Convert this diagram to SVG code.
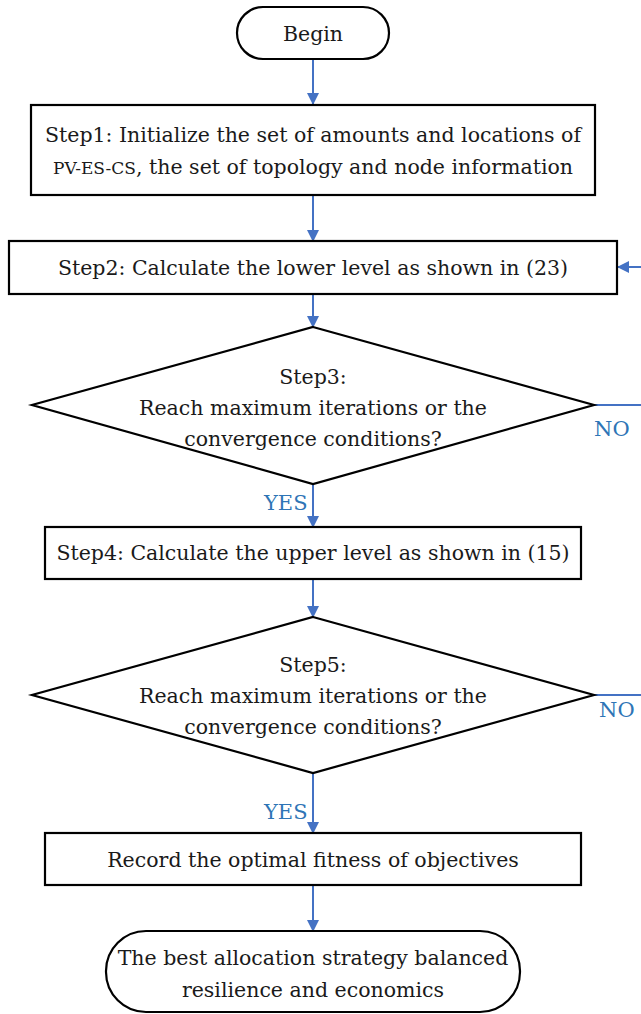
<svg xmlns="http://www.w3.org/2000/svg" width="641" height="1014" viewBox="0 0 641 1014">
<defs>
<marker id="ah" markerWidth="12" markerHeight="12" refX="11" refY="6" orient="auto" markerUnits="userSpaceOnUse">
<path d="M0,0 L12,6 L0,12 Z" fill="#4472C4"/>
</marker>
<style>
.box{fill:#fff;stroke:#000;stroke-width:2.2}
.t{font-family:'DejaVu Serif','Liberation Serif',serif;font-size:20.5px;fill:#1a1a1a;text-anchor:middle}
.s{font-size:17px}
.c{stroke:#4472C4;stroke-width:2;fill:none}
.lbl{font-family:'DejaVu Serif','Liberation Serif',serif;font-size:21px;fill:#2E75B6}
</style>
</defs>
<rect width="641" height="1014" fill="#fff"/>
<g id="connectors">
<line class="c" x1="313" y1="59" x2="313" y2="104" marker-end="url(#ah)"/>
<line class="c" x1="313" y1="196" x2="313" y2="241" marker-end="url(#ah)"/>
<line class="c" x1="313" y1="294" x2="313" y2="327" marker-end="url(#ah)"/>
<line class="c" x1="313" y1="484" x2="313" y2="527" marker-end="url(#ah)"/>
<line class="c" x1="313" y1="579" x2="313" y2="617" marker-end="url(#ah)"/>
<line class="c" x1="313" y1="773" x2="313" y2="833" marker-end="url(#ah)"/>
<line class="c" x1="313" y1="885" x2="313" y2="931" marker-end="url(#ah)"/>
<line class="c" x1="594" y1="405" x2="641" y2="405"/>
<line class="c" x1="594" y1="695" x2="641" y2="695"/>
<line class="c" x1="641" y1="267" x2="618" y2="267" marker-end="url(#ah)"/>
<text class="lbl" x="594" y="436">NO</text>
<text class="lbl" x="599" y="717">NO</text>
<text class="lbl" x="264" y="510">YES</text>
<text class="lbl" x="264" y="819">YES</text>
</g>
<g id="begin">
<rect class="box" x="237" y="7" width="152" height="52" rx="26"/>
<text class="t" x="313" y="41">Begin</text>
</g>
<g id="step1">
<rect class="box" x="31" y="105" width="564" height="90"/>
<text class="t" x="313" y="142">Step1: Initialize the set of amounts and locations of</text>
<text class="t" x="313" y="174"><tspan class="s">PV-ES-CS</tspan>, the set of topology and node information</text>
</g>
<g id="step2">
<rect class="box" x="9" y="241" width="608" height="53"/>
<text class="t" x="313" y="275">Step2: Calculate the lower level as shown in (23)</text>
</g>
<g id="step3">
<polygon class="box" points="313,327 594,405 313,484 32,405"/>
<text class="t" x="313" y="384">Step3:</text>
<text class="t" x="313" y="415">Reach maximum iterations or the</text>
<text class="t" x="313" y="446">convergence conditions?</text>
</g>
<g id="step4">
<rect class="box" x="45" y="527" width="536" height="52"/>
<text class="t" x="313" y="560">Step4: Calculate the upper level as shown in (15)</text>
</g>
<g id="step5">
<polygon class="box" points="313,617 594,695 313,773 32,695"/>
<text class="t" x="313" y="672">Step5:</text>
<text class="t" x="313" y="703">Reach maximum iterations or the</text>
<text class="t" x="313" y="734">convergence conditions?</text>
</g>
<g id="record">
<rect class="box" x="45" y="833" width="536" height="52"/>
<text class="t" x="313" y="867">Record the optimal fitness of objectives</text>
</g>
<g id="end">
<rect class="box" x="106" y="931" width="414" height="81" rx="40"/>
<text class="t" x="313" y="965">The best allocation strategy balanced</text>
<text class="t" x="313" y="997">resilience and economics</text>
</g>
</svg>
